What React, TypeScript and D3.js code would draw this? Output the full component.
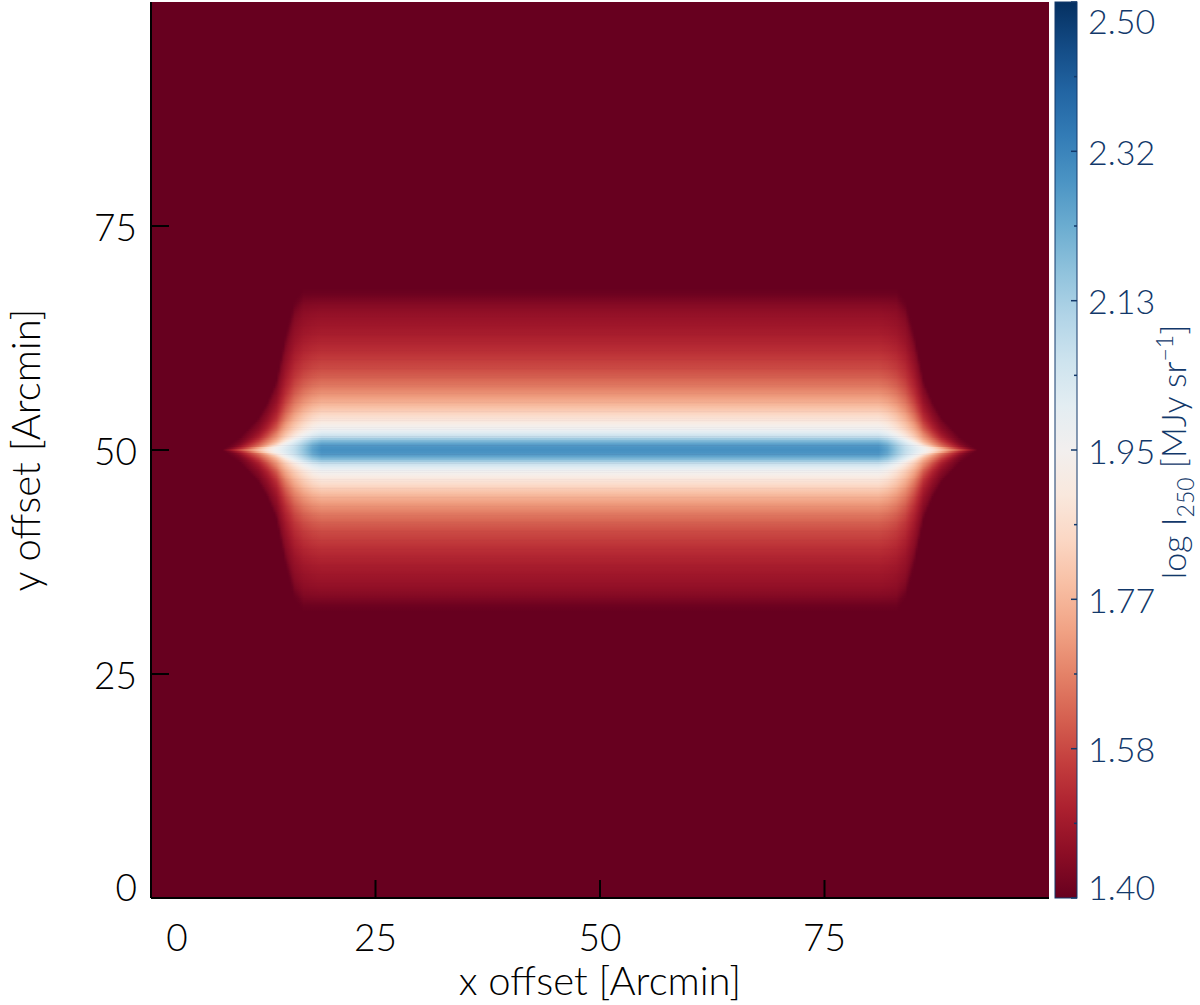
import React, { useMemo } from "react";
import * as d3 from "d3";

// ---------- data ----------
const xTicks = [0, 25, 50, 75];
const yTicks = [0, 25, 50, 75];
const colorTicks = [1.4, 1.5833, 1.7667, 1.95, 2.1333, 2.3167, 2.5];
const colorDomain = [1.4, 2.5];
const axisDomain = [0, 100];

// vertical profile of log I_250 across the filament body (offset from axis, arcmin)
const profileOffset = [0, 0.5, 1, 1.5, 2, 2.5, 3, 4, 5, 6, 7, 8, 9, 10, 11, 12, 13, 14, 15, 16, 16.7, 17.3, 18];
const profileLogI = [2.29, 2.27, 2.19, 2.07, 2.0, 1.95, 1.91, 1.84, 1.77, 1.715, 1.665, 1.625, 1.59, 1.565, 1.54, 1.52, 1.5, 1.485, 1.47, 1.45, 1.43, 1.41, 1.4];

// taper of the filament ends (distance from tip, arcmin)
const taperDist = [0, 1, 2, 3, 4, 5, 6, 7, 8, 9, 10, 11];
const taperAmp = [0, 0.1, 0.21, 0.32, 0.43, 0.54, 0.63, 0.7, 0.77, 0.86, 0.95, 1];
const taperWidth = [0, 0.04, 0.08, 0.14, 0.2, 0.3, 0.44, 0.72, 0.93, 1, 1, 1];

const tipLeft = 8;
const tipRight = 92;
const filamentY = 50;
const backgroundLogI = 1.4;

// ---------- layout ----------
const W = 1200;
const H = 1005;
const plot = { left: 151, right: 1049, top: 2, bottom: 898 };
const cbar = { left: 1055, right: 1077 };
const FONT = "Lato, 'Open Sans', 'DejaVu Sans', sans-serif";
const NAVY = "#12386a";

export default function App() {
  const x = d3.scaleLinear().domain(axisDomain).range([plot.left, plot.right]);
  const y = d3.scaleLinear().domain(axisDomain).range([plot.bottom, plot.top]);
  const color = d3.scaleSequential(d3.interpolateRdBu).domain(colorDomain);
  const cy = d3.scaleLinear().domain(colorDomain).range([plot.bottom, plot.top]);

  const P = d3.scaleLinear().domain(profileOffset).range(profileLogI).clamp(true);
  const T = d3.scaleLinear().domain(taperDist).range(taperAmp).clamp(true);
  const Wd = d3.scaleLinear().domain(taperDist).range(taperWidth).clamp(true);

  const value = (s: number, d: number) => {
    const w = Wd(s);
    if (w <= 0) return backgroundLogI;
    return backgroundLogI + (P(d / w) - backgroundLogI) * T(s);
  };

  const rowStep = 0.2;
  const maxD = profileOffset[profileOffset.length - 1];
  const capLen = taperDist[taperDist.length - 1];

  const rows = useMemo(() => {
    const out: { d: number; stops: { off: number; c: string }[] }[] = [];
    const nRows = Math.round(maxD / rowStep);
    const span = tipRight - tipLeft;
    for (let k = 0; k <= nRows; k++) {
      const d = k * rowStep;
      const stops: { off: number; c: string }[] = [];
      for (let s = 0; s <= capLen + 1e-9; s += 0.25) {
        stops.push({ off: s / span, c: color(value(s, d)) });
      }
      for (let s = capLen; s >= -1e-9; s -= 0.25) {
        stops.push({ off: (span - s) / span, c: color(value(s, d)) });
      }
      out.push({ d, stops });
    }
    return out;
  }, []);

  const rowPx = Math.abs(y(rowStep) - y(0));
  const cbarStops = d3.range(0, 1.0001, 0.05);
  const minorTicks = colorTicks.slice(0, -1).map((t, i) => (t + colorTicks[i + 1]) / 2);

  return (
    <svg width={W} height={H} style={{ display: "block", position: "absolute", left: 0, top: 0 }}>
      <defs>
        {rows.map((r, i) => (
          <linearGradient key={i} id={`row${i}`} x1="0" x2="1" y1="0" y2="0">
            {r.stops.map((st, j) => (
              <stop key={j} offset={st.off} stopColor={st.c} />
            ))}
          </linearGradient>
        ))}
        <linearGradient id="cbar" x1="0" x2="0" y1="1" y2="0">
          {cbarStops.map((t, j) => (
            <stop key={j} offset={t} stopColor={d3.interpolateRdBu(t)} />
          ))}
        </linearGradient>
      </defs>
      <rect x={0} y={0} width={W} height={H} fill="#fff" />

      {/* image */}
      <rect
        x={plot.left}
        y={plot.top}
        width={plot.right - plot.left}
        height={plot.bottom - plot.top}
        fill={color(backgroundLogI)}
      />
      {rows
        .slice()
        .reverse()
        .flatMap((r) => {
          const i = Math.round(r.d / rowStep);
          const ys = r.d === 0 ? [filamentY] : [filamentY + r.d, filamentY - r.d];
          return ys.map((yy, k) => (
            <rect
              key={`${i}-${k}`}
              x={x(tipLeft)}
              width={x(tipRight) - x(tipLeft)}
              y={y(yy + rowStep / 2) - 0.3}
              height={rowPx + 0.6}
              fill={`url(#row${i})`}
            />
          ));
        })}

      {/* axes */}
      <line x1={plot.left} x2={plot.left} y1={plot.top} y2={plot.bottom} stroke="#000" strokeWidth={2} />
      <line x1={plot.left} x2={plot.right} y1={plot.bottom} y2={plot.bottom} stroke="#000" strokeWidth={2} />
      {yTicks.filter((t) => t > 0).map((t) => (
        <line key={`yt${t}`} x1={plot.left} x2={plot.left + 18} y1={y(t)} y2={y(t)} stroke="#000" strokeWidth={2} />
      ))}
      {xTicks.filter((t) => t > 0).map((t) => (
        <line key={`xt${t}`} x1={x(t)} x2={x(t)} y1={plot.bottom} y2={plot.bottom - 18} stroke="#000" strokeWidth={2} />
      ))}
      <g fontFamily={FONT} fontWeight={300} fontSize={37} fill="#000">
        {yTicks.map((t) => (
          <text key={`yl${t}`} x={137} y={t === 0 ? y(t) - 12 : y(t)} textAnchor="end" dominantBaseline="central">
            {t}
          </text>
        ))}
        {xTicks.map((t) => (
          <text key={`xl${t}`} x={t === 0 ? x(t) + 26 : x(t)} y={951} textAnchor="middle">
            {t}
          </text>
        ))}
        <text x={x(50)} y={995} textAnchor="middle" fontSize={40}>
          x offset [Arcmin]
        </text>
        <text transform={`translate(40, ${y(50)}) rotate(-90)`} textAnchor="middle" fontSize={40}>
          y offset [Arcmin]
        </text>
      </g>

      {/* colorbar */}
      <rect
        x={cbar.left}
        y={plot.top}
        width={cbar.right - cbar.left}
        height={plot.bottom - plot.top}
        fill="url(#cbar)"
        stroke={NAVY}
        strokeWidth={1}
      />
      {colorTicks.map((t) => (
        <line key={`ct${t}`} x1={cbar.right} x2={cbar.right - 6} y1={cy(t)} y2={cy(t)} stroke={NAVY} strokeWidth={1.5} />
      ))}
      {minorTicks.map((t) => (
        <line key={`cm${t}`} x1={cbar.right} x2={cbar.right - 3} y1={cy(t)} y2={cy(t)} stroke={NAVY} strokeWidth={1.5} />
      ))}
      <g fontFamily={FONT} fontWeight={300} fontSize={34} fill={NAVY}>
        {colorTicks.map((t, i) => {
          let yy = cy(t);
          if (i === 0) yy -= 12;
          if (i === colorTicks.length - 1) yy += 18;
          return (
            <text key={`cl${t}`} x={1088} y={yy} dominantBaseline="central">
              {t.toFixed(2)}
            </text>
          );
        })}
        <text transform={`translate(1186, 452) rotate(-90)`} textAnchor="middle" fontSize={34}>
          log I
          <tspan fontSize={23} dy={8}>250</tspan>
          <tspan dy={-8}> [MJy sr</tspan>
          <tspan fontSize={23} dy={-13}>−1</tspan>
          <tspan dy={13}>]</tspan>
        </text>
      </g>
    </svg>
  );
}
